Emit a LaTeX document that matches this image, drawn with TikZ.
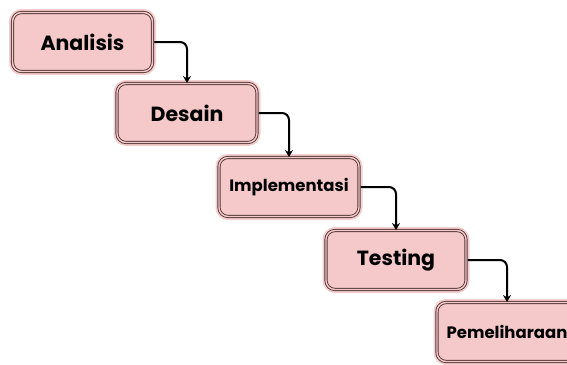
\documentclass[tikz,border=0pt]{standalone}
\usepackage{fontspec}
\setmainfont{Poppins}
\usepackage{tikz}
\usetikzlibrary{arrows.meta}
\definecolor{ffcccc}{rgb}{0.96,0.79,0.79}
\definecolor{eeaaaa}{rgb}{0.93,0.62,0.62}
\definecolor{553333}{rgb}{0.33,0.22,0.22}
\tikzstyle{every node}=[font=\bfseries]
\tikzstyle{tahap}=[rectangle,rounded corners=9pt,minimum width=140pt,minimum height=59pt,
  fill=ffcccc,draw=553333,line width=0.9pt,double=ffcccc,double distance=1.4pt,
  preaction={draw=eeaaaa,line width=7pt,opacity=0.5}]
\tikzstyle{alur}=[-{Stealth[length=7pt,width=8pt]},line width=2pt,rounded corners=7pt]

\begin{document}
\begin{tikzpicture}[line cap=round,line join=round,x=1pt,y=-1pt]
            \useasboundingbox (0,0) rectangle (567,364);
            \node[tahap,font=\fontsize{20.5}{24}\selectfont\bfseries] (analisis) at (82.5,42) {Analisis};
            \node[tahap,font=\fontsize{20.5}{24}\selectfont\bfseries] (desain) at (187,113) {Desain};
            \node[tahap,font=\fontsize{16.5}{20}\selectfont\bfseries] (implementasi) at (289,187) {Implementasi};
            \node[tahap,font=\fontsize{20.5}{24}\selectfont\bfseries] (testing) at (396,260) {Testing};
            \node[tahap,font=\fontsize{16.5}{20}\selectfont\bfseries] (pemeliharaan) at (507,332) {Pemeliharaan};
            \draw [alur] ([xshift=2pt]analisis.east) -| (desain.north);
            \draw [alur] ([xshift=2pt]desain.east) -| (implementasi.north);
            \draw [alur] ([xshift=2pt]implementasi.east) -| (testing.north);
            \draw [alur] ([xshift=2pt]testing.east) -| (pemeliharaan.north);
\end{tikzpicture}
\end{document}
